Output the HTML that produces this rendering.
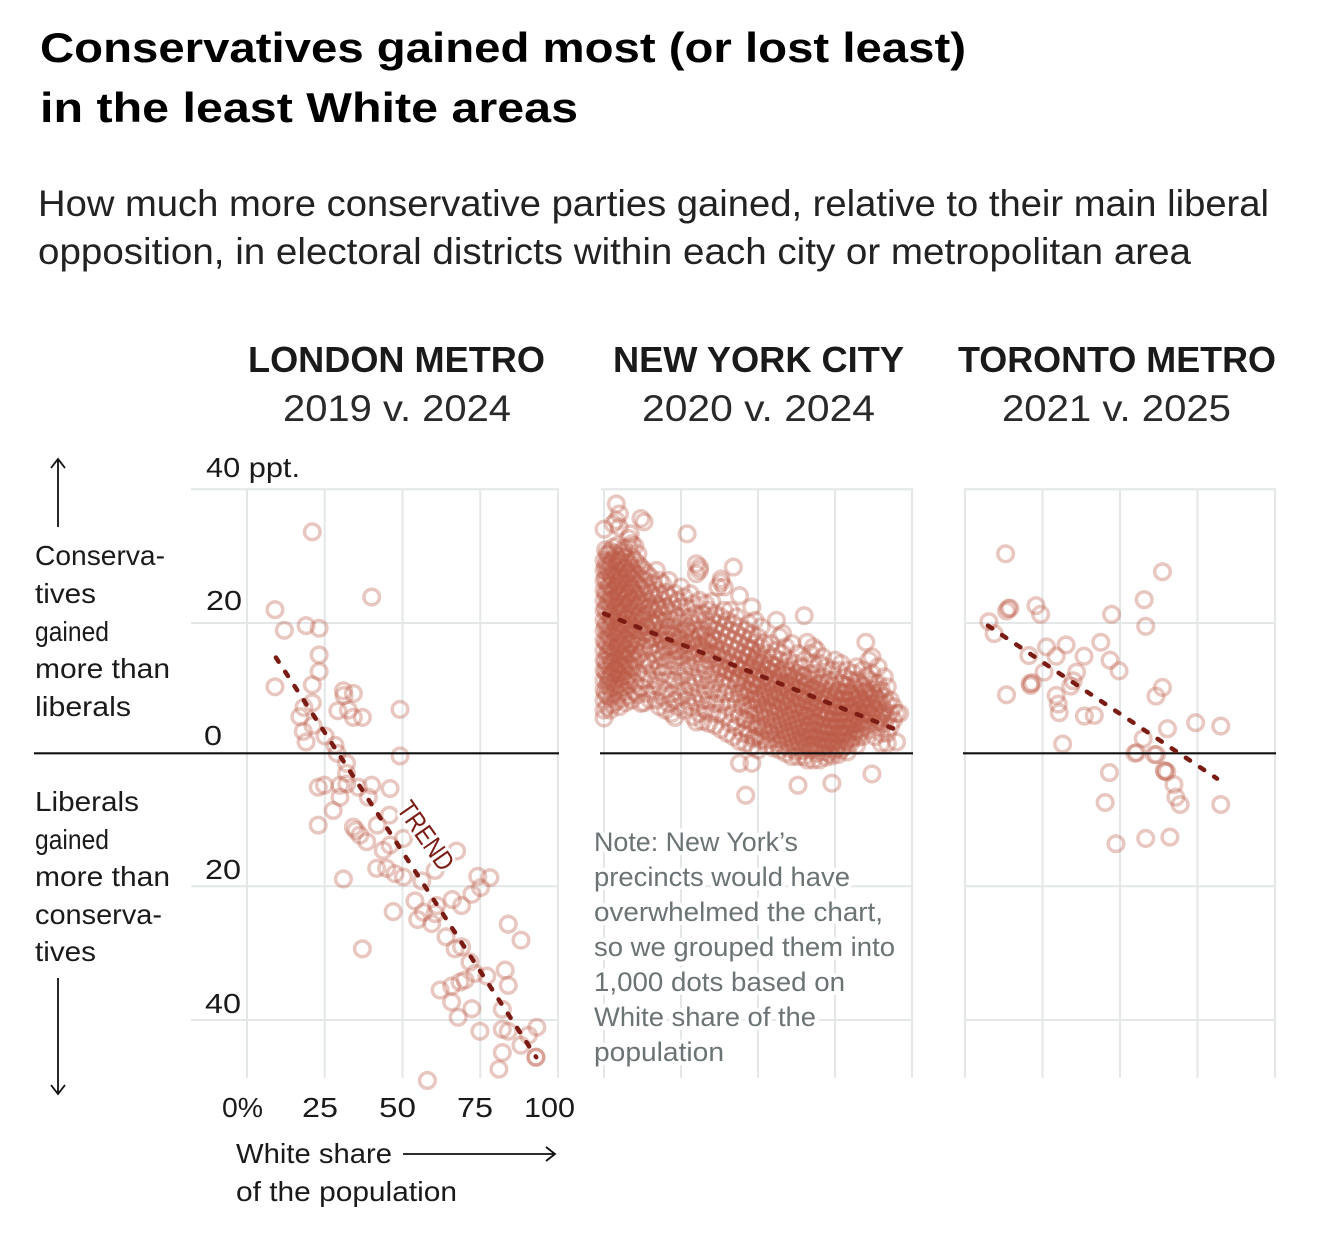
<!DOCTYPE html>
<html lang="en">
<head>
<meta charset="utf-8">
<title>Conservatives gained most (or lost least) in the least White areas</title>
<style>
html,body{margin:0;padding:0;background:#fff;}
svg{display:block;}
text{font-family:"Liberation Sans",sans-serif;fill:#1a1a1a;}
.title{font-weight:700;font-size:42px;fill:#000;}
.sub{font-size:37px;fill:#222;}
.head{font-weight:700;font-size:36px;fill:#1a1a1a;}
.year{font-size:37px;fill:#2a2a2a;}
.lab{font-size:28px;fill:#1a1a1a;}
.note{font-size:27px;fill:#6b7375;paint-order:stroke;stroke:#fff;stroke-width:8px;stroke-linejoin:round;}
.trend-label{font-size:27px;fill:#7a1c14;paint-order:stroke;stroke:#fff;stroke-width:6px;stroke-linejoin:round;}
</style>
</head>
<body>
<svg id="chart" xmlns="http://www.w3.org/2000/svg" width="1332" height="1240" viewBox="0 0 1332 1240">
  <rect width="1332" height="1240" fill="#fff"/>
  <text class="title" x="40" y="62" textLength="926" lengthAdjust="spacingAndGlyphs">Conservatives gained most (or lost least)</text>
  <text class="title" x="40" y="122" textLength="538" lengthAdjust="spacingAndGlyphs">in the least White areas</text>
  <text class="sub" x="38" y="216" textLength="1231" lengthAdjust="spacingAndGlyphs">How much more conservative parties gained, relative to their main liberal</text>
  <text class="sub" x="38" y="264" textLength="1153" lengthAdjust="spacingAndGlyphs">opposition, in electoral districts within each city or metropolitan area</text>

  <text class="head" x="248" y="372" textLength="297" lengthAdjust="spacingAndGlyphs">LONDON METRO</text>
  <text class="year" x="283" y="421" textLength="228" lengthAdjust="spacingAndGlyphs">2019 v. 2024</text>
  <text class="head" x="613" y="372" textLength="291" lengthAdjust="spacingAndGlyphs">NEW YORK CITY</text>
  <text class="year" x="642" y="421" textLength="233" lengthAdjust="spacingAndGlyphs">2020 v. 2024</text>
  <text class="head" x="958" y="372" textLength="318" lengthAdjust="spacingAndGlyphs">TORONTO METRO</text>
  <text class="year" x="1002" y="421" textLength="229" lengthAdjust="spacingAndGlyphs">2021 v. 2025</text>

  <g id="plots"></g>

  <g>
    <text class="lab" x="206" y="477" textLength="94" lengthAdjust="spacingAndGlyphs">40 ppt.</text>
    <text class="lab" x="206" y="610" textLength="36" lengthAdjust="spacingAndGlyphs">20</text>
    <text class="lab" x="204" y="745" textLength="18" lengthAdjust="spacingAndGlyphs">0</text>
    <text class="lab" x="205" y="879" textLength="36" lengthAdjust="spacingAndGlyphs">20</text>
    <text class="lab" x="205" y="1013" textLength="36" lengthAdjust="spacingAndGlyphs">40</text>
  </g>

  <g>
    <path d="M58 527V459M51 468L58 459L65 468" fill="none" stroke="#111" stroke-width="1.8"/>
    <text class="lab" x="35" y="565" textLength="130" lengthAdjust="spacingAndGlyphs">Conserva-</text>
    <text class="lab" x="35" y="603" textLength="61" lengthAdjust="spacingAndGlyphs">tives</text>
    <text class="lab" x="35" y="641" textLength="74" lengthAdjust="spacingAndGlyphs">gained</text>
    <text class="lab" x="35" y="678" textLength="135" lengthAdjust="spacingAndGlyphs">more than</text>
    <text class="lab" x="35" y="716" textLength="96" lengthAdjust="spacingAndGlyphs">liberals</text>
  </g>
  <g>
    <text class="lab" x="35" y="811" textLength="104" lengthAdjust="spacingAndGlyphs">Liberals</text>
    <text class="lab" x="35" y="849" textLength="74" lengthAdjust="spacingAndGlyphs">gained</text>
    <text class="lab" x="35" y="886" textLength="135" lengthAdjust="spacingAndGlyphs">more than</text>
    <text class="lab" x="35" y="924" textLength="127" lengthAdjust="spacingAndGlyphs">conserva-</text>
    <text class="lab" x="35" y="961" textLength="61" lengthAdjust="spacingAndGlyphs">tives</text>
    <path d="M58 978V1094M51 1085L58 1094L65 1085" fill="none" stroke="#111" stroke-width="1.8"/>
  </g>

  <g>
    <text class="lab" x="222" y="1117" textLength="41" lengthAdjust="spacingAndGlyphs">0%</text>
    <text class="lab" x="302" y="1117" textLength="36" lengthAdjust="spacingAndGlyphs">25</text>
    <text class="lab" x="379" y="1117" textLength="37" lengthAdjust="spacingAndGlyphs">50</text>
    <text class="lab" x="457" y="1117" textLength="36" lengthAdjust="spacingAndGlyphs">75</text>
    <text class="lab" x="524" y="1117" textLength="51" lengthAdjust="spacingAndGlyphs">100</text>
    <text class="lab" x="236" y="1163" textLength="156" lengthAdjust="spacingAndGlyphs">White share</text>
    <path d="M403 1154H555M546 1147L555 1154L546 1161" fill="none" stroke="#111" stroke-width="1.8"/>
    <text class="lab" x="236" y="1201" textLength="221" lengthAdjust="spacingAndGlyphs">of the population</text>
  </g>

  <g>
    <text class="note" x="594" y="851" textLength="204" lengthAdjust="spacingAndGlyphs">Note: New York’s</text>
    <text class="note" x="594" y="886" textLength="256" lengthAdjust="spacingAndGlyphs">precincts would have</text>
    <text class="note" x="594" y="921" textLength="289" lengthAdjust="spacingAndGlyphs">overwhelmed the chart,</text>
    <text class="note" x="594" y="956" textLength="301" lengthAdjust="spacingAndGlyphs">so we grouped them into</text>
    <text class="note" x="594" y="991" textLength="251" lengthAdjust="spacingAndGlyphs">1,000 dots based on</text>
    <text class="note" x="594" y="1026" textLength="222" lengthAdjust="spacingAndGlyphs">White share of the</text>
    <text class="note" x="594" y="1061" textLength="130" lengthAdjust="spacingAndGlyphs">population</text>
  </g>
</svg>

<script>
var xGridValues = [0, 25, 50, 75, 100];
var yGridValues = [39.7, 19.6, -20, -40.1];

var londonPoints = [[21,33.3],[40.1,23.5],[9,21.6],[12,18.5],[19,19.2],[23.2,18.8],[23.2,14.8],[23.2,12.3],[21,10.3],[9,10],[21,7.6],[18.3,6.9],[17,5.5],[18.1,3.3],[19,1.7],[21.2,4.2],[25.1,2.6],[31,9.4],[31.2,8.7],[34.2,9],[29.2,6.4],[32.6,6.5],[34.2,5.4],[37.1,5.4],[49.2,6.6],[49.2,-0.4],[28.3,1.2],[29,0],[32,-1.5],[32,-3],[22.9,-5.1],[24.9,-4.8],[29.9,-4.8],[32.1,-4.6],[35.8,-5.1],[40.1,-4.8],[46,-5.3],[29.9,-6.6],[27.7,-8.6],[22.9,-10.8],[39,-6.6],[45.8,-9.3],[41.9,-10.8],[34.2,-11.1],[35,-11.6],[36.3,-12.3],[38.5,-13.3],[50.3,-12.8],[46,-13.8],[43.8,-14.6],[41.7,-17.3],[44.9,-17.3],[47.6,-18.1],[50.3,-18.6],[67.4,-14.7],[31,-18.9],[60.5,-17.6],[56.2,-19.2],[74.2,-18.5],[78.1,-18.7],[75.1,-20.2],[72.3,-21.2],[69,-22.9],[66,-22],[54,-22.2],[47,-23.8],[54.9,-25],[56.7,-23.9],[59.4,-25.6],[60.5,-24.1],[61,-22.9],[84,-25.7],[88.1,-28.1],[37.1,-29.4],[64,-27.6],[66.9,-29.4],[69,-29.1],[71.7,-31.4],[73.3,-33.1],[77.1,-33.5],[83,-32.6],[84,-34.9],[62.1,-35.6],[65.8,-35],[68.5,-34.4],[70.1,-34.1],[65.8,-37.4],[72.3,-38.4],[67.9,-39.7],[82.1,-38.5],[74.9,-41.8],[82.1,-41.5],[84,-41.8],[93.2,-41.2],[90.5,-42.4],[88.1,-43.9],[82.1,-45],[81,-47.5],[92.9,-45.7],[92.9,-45.7],[58,-49.2]];
var londonTrend = [[9.3,14.4],[93,-45.7]];

var torontoPoints = [[13.1,30],[63.7,27.3],[57.8,23.1],[58.3,19.1],[47.3,20.9],[14,21.8],[13.4,21.4],[14.5,21.8],[22.9,22.2],[24.4,20.9],[7.7,19.8],[9.4,18],[20.6,14.7],[26.3,16],[32.6,16.3],[29.4,14.6],[43.8,16.7],[38.4,14.6],[46.8,14],[49.7,12.4],[25.5,12.2],[36,12.2],[34.9,10.9],[34.1,10.1],[21.2,10.2],[21,10.5],[21.7,10.6],[13.4,8.8],[29.4,8.7],[30.1,7.4],[30.4,6.1],[38.5,5.6],[41.7,5.7],[63.7,9.9],[61.6,8.6],[65.3,3.7],[74.4,4.6],[82.5,4.1],[57.5,2.2],[31.5,1.4],[54.8,0],[55.4,0.1],[61.1,-0.2],[61.8,-0.2],[64.5,-2.7],[65.1,-2.8],[64.3,-2.6],[67.4,-4.7],[46.6,-2.9],[68,-6.6],[69.4,-7.7],[45.2,-7.4],[82.5,-7.7],[48.7,-13.6],[58.3,-12.8],[66.1,-12.6]];
var torontoTrend = [[7.4,19.2],[81.3,-3.8]];

/* NYC: grouped dots. One row per White-share value (the row index), listing each dot's swing. */
var nycSwingsByWhiteShare = [
[5.3,6.5,8,9.5,11,12.5,14,15.5,17,18.5,20,21.5,23,24.5,26,27.5,29,33.7],
[7,8.7,10.2,11.8,13.3,14.9,16.4,18,19.5,21.1,22.6,24.2,25.7,27.3,28.8,30],
[6.5,8.3,9.8,11.4,12.9,14.5,16,17.6,19.1,20.7,22.2,23.8,25.3,26.9,28.4,30.4],
[7.4,9,10.6,12.1,13.7,15.2,16.8,18.3,19.9,21.4,23,24.5,26.1,27.6,29.2,31,34.5],
[7.8,9.6,11.1,12.7,14.2,15.8,17.3,18.9,20.4,22,23.5,25.1,26.6,28.2,29.7,35,37.5],
[7,8.8,10.4,11.9,13.5,15,16.6,18.1,19.7,21.2,22.8,24.3,25.9,27.4,29,36,34],
[8.2,10,11.5,13.1,14.6,16.2,17.7,19.3,20.8,22.4,23.9,25.5,27,28.6,30.3],
[7.6,9.3,10.9,12.4,14,15.5,17.1,18.6,20.2,21.7,23.3,24.8,26.4,27.9,29.5],
[8.6,10.3,11.8,13.4,14.9,16.5,18,19.5,21,22.6,24.1,25.6,27.2,28.7,31,32.3],
[8,11,13,15,16.8,18.4,20,21.5,23,24.6,26.3,27.8,29.6,31.5],
[9.2,10.6,13.8,15.5,17.2,19,20.6,22.2,24,25.5,27,29,31.2],
[8.8,12,14.5,16.8,18.6,20.3,22,23.7,25.3,26.8,28.5,30],
[7.5,10,15,17.5,19.4,21.2,23,24.8,26.2,28,35.3],
[7.6,11,13.5,16,18.2,20.2,22.4,24.2,26,27.5,34.8],
[9,12,14,17,19,21,23,25,27],
[8,11,13.5,16,18,20,22,24,26.5],
[9.5,12.5,15,17.5,19.5,21.5,23.5,25.5],
[8,11,14,16.5,18.5,20.5,22.5,24.5,27.5],
[7,10,13,15.5,18,20,22,24,26],
[8.5,12,14.5,17,19,21,23,25.5],
[6.5,9.5,13,16,18,20,22,24.2],
[7.5,11,14,17,19,21.5,23.5,26],
[6,9,12.5,15.5,18,20,22.5],
[5.4,8,11,14,16.5,19,21,24],
[7,10,13,15.5,18,20.5,23],
[8.5,11.5,14.5,17,19.5,22,25],
[6.5,9.5,12.5,15.5,18,20.5,23.5],
[8,11,14,16.5,19,22,33],
[7,10,13,15.5,18,20.5,24],
[5.5,8.5,11.5,14.5,17,19.5,22.5],
[4.7,7.5,10.5,13.5,16,18.5,21,27,28.5],
[6,9,12,15,17.5,20,23,27.5,28],
[4.8,8,11,13.5,16,18.5,21],
[6.5,9.5,12.5,15,17.5,20,22.5],
[4.5,8,11,14,16.5,19,21.5],
[6,9.5,12,15,17.5,20,22.8],
[4.2,7.5,10.5,13.5,16,18.5,21],
[6,9,12,14.5,17,19.5,25],
[3.6,7.5,10.5,13,15.5,18,20.5,25.7,26.2],
[5.5,9,11.5,14,16.5,19,21.5,25],
[3,7,10,12.5,15,17.5,20],
[4.5,8,11,13.5,16,18.5,21.5],
[2.5,6,9,12,14.5,17,19.5,28],
[4,7.5,10.5,13,15.5,18,20.5],
[-1.5,1.8,5.5,9,11.5,14,16.5,19,23.7],
[3,7,10,12.5,15,17.5],
[-6.3,1.5,5,8.5,11,13.5,16,18.5],
[2.8,6.5,9.5,12,14.5,17,19.5],
[-1.5,1,4.5,8,10.5,13,15.5,18,22],
[2.5,6,9,11.5,14,16.5,20],
[0.5,4,7.5,10,12.5,15,17.5],
[2,5.5,8.5,11,13.5,16,19],
[3.5,6.5,9,11.5,14,16.5],
[1.2,4.5,7.5,10,12.5,15],
[3,6,8.5,11,13.5,16.5],
[0.8,4,7,9.5,12,14.5],
[2.2,5,8,10.5,13,15.5,20],
[0.5,3.5,6.5,9,11.5,14,17.5],
[2,4.5,7.5,10,12.5,15,18],
[0,3,5.5,8,10.5,13,16],
[1.5,4,6.5,9,11.5,14],
[-0.5,2.5,5,7.5,10,12.5,16.5],
[1,3.5,6,8.5,11,13.5],
[-4.8,-0.5,2,4.5,7,9.5,12,15],
[1,3,5.5,8,10.5,13],
[-0.5,2,4,6.5,9,11.5,14,20.7],
[-1,1,3.5,5.5,8,10.5,16.7],
[0.5,2.5,4.5,7,9.5,12,15],
[-1,1.5,3.5,6,8.5,11,13.5,16],
[0,2,4.5,7,9.5,12,15.5],
[-1,1,3,5.5,8,10.5,13.5],
[0.2,2,4,6.5,9,11.5,14.5],
[-0.6,1.2,3,5.5,8,10.5,13],
[0,2,4,6,8.5,11],
[-4.5,-0.4,1.5,3.2,5,7.5,10,12.5],
[0.4,2.2,4,6,8.5,11,14],
[-0.2,1.2,3,5,7,9.5,12.5],
[0.5,2.5,4,6,8,10.5,13.5],
[1,3,5,7,9,11.5],
[0.2,2,4,6,8,10,12.5],
[1.5,3.5,5,7,9,11],
[2.5,4.5,6,8,10,12],
[1.2,3.5,5.5,7,9,11,13],
[3,5,6.5,8.5,10.5],
[2.5,4.5,6,8,10,12.5],
[4,6,7.5,9.5,11.5,16.7],
[3.5,5,7,9,11,14],
[-3.1,5.5,7.5,9.5,12,14.5],
[2.5,4.5,6.5,8.5,10.5],
[4,6,8,10.5,13],
[1.5,3,5.5,7.5,9.5],
[4.5,6.5,8.5,11.5],
[1.5,3,5.5,7.5,10],
[4,6,8],
[5,7],
[1.7,6],
[6]
];
/* Dots in between: row index plus one half gives the White share. */
var nycSwingsHalfShare = [
[9.1,12.3,13.9,16.7,19.2,21.8,24,26.3,28.1,30.6],
[10.7,11.2,15.3,17.4,18.8,22.9,25.1,27.7,29.9],
[11.9,13.6,15.9,19.8,20.4,23.2,26.6,28.9],
[10.1,12.6,14.7,17.9,21.9,24.8,27,30.1],
[12.2,16.1,18.6,20.9,23.8,25.6,28.8,31.3],
[11.3,13.2,15.4,19.4,22.3,26.2,29.7],
[12.9,14.3,17.2,21.3,24.4,27.8,30.8],
[11.6,15.7,18.9,20.1,23.6,26.9],
[12.8,16.4,19.2,22.7,25.2,28.3,33],
[14.1,17.7,21.1,24.2,27.2],
[16.3,19.8,23.4],
[18.3,22.6],
[20.7],
[19.1],
[21.9],
[17.3],
[19.4],
[21.7],
[17.2],
[15.6],
[18.3],
[16.1],
[17.6],
[15.4],
[17.4],
[16.3],
[18.6],
[15.1],
[17.4],
[14.9],
[16.4],
[17.9],
[15.4],
[16.9],
[14.8],
[17.1],
[15.3],
[13.1],
[14.7],
[12.7],
[14.1],
[12.3],
[13.4],
[11.1],
[8.4,12.6],
[5.2,9.6,13.1],
[3.6,7.2,11.4,14.7],
[5.7,9.2,12.7,15.8],
[2.2,6.8,10.3,13.6],
[4.3,8.1,11.1,14.6],
[2.6,5.9,8.9,12.1],
[3.9,7.2,10.2,13.4],
[1.9,5.2,8.4,11.7],
[3.3,6.4,9.2,12.6],
[2.1,4.9,7.7,10.4,13.2],
[3.4,6.1,8.6,11.1],
[1.4,4.2,6.9,9.3,12.2],
[2.7,5.3,7.8,10.6],
[1.1,3.7,6.2,8.8,11.8],
[2.4,4.8,7.1,9.7,12.4],
[0.7,3.2,5.7,8.2,10.7],
[1.8,4.3,6.6,9.2,11.6],
[0.3,2.8,5.1,7.4,9.9],
[1.6,3.8,6.1,8.4,10.8],
[0.4,2.4,4.7,7.1,9.3,11.7],
[1.4,3.3,5.6,7.9,10.2],
[2.2,4.2,6.4,8.7,11.2],
[1.2,3.2,5.3,7.6,9.8],
[0.6,2.6,4.6,6.9,9.2],
[1.4,3.4,5.7,7.8,10.4],
[2.2,4.3,6.4,8.7],
[0.9,3.1,5.2,7.3,9.6],
[1.9,4,6.1,8.4],
[0.7,2.9,5,7.1,9.4],
[1.7,3.9,6,8.2],
[0.8,2.8,4.8,6.9,9.2],
[1.8,3.8,5.9,8],
[3,5,7,9.1],
[1.7,3.9,6,8.1,10.2],
[2.9,4.9,6.9,9.2],
[2.2,4.2,6.2,8.4],
[3.2,5.2,7.3,9.5],
[2.4,4.4,6.4,8.3],
[3.7,5.7,7.6],
[4.9,7,9.2],
[6.2,8.2],
[5.9,8.4],
[6.7,9],
[5.2,7.7],
[4.8,9],
[6]
];
var nycTrend = [[0,21],[94,3.7]];

var SVGNS = 'http://www.w3.org/2000/svg';
var plots = document.getElementById('plots');

function yScale(v) { return 753.3 - 6.65 * v; }
function makeXScale(x0, width) {
  return function (v) { return x0 + width * v / 100; };
}
function add(parent, tag, attrs) {
  var el = document.createElementNS(SVGNS, tag);
  for (var k in attrs) { el.setAttribute(k, attrs[k]); }
  parent.appendChild(el);
  return el;
}

function drawPanel(key, x0, width, gridLeft, zeroLeft, points, trend) {
  var xScale = makeXScale(x0, width);
  var right = x0 + width;
  var g = add(plots, 'g', {});
  
  

  xGridValues.forEach(function (v) {
    var line = add(g, 'line', { x1: xScale(v), x2: xScale(v), y1: 489, y2: 1078, stroke: '#e3e7e8', 'stroke-width': 2 });
    
    
  });
  yGridValues.forEach(function (v) {
    var line = add(g, 'line', { x1: gridLeft, x2: right + 1, y1: yScale(v), y2: yScale(v), stroke: '#e3e7e8', 'stroke-width': 2 });
    
    
  });

  points.forEach(function (p) {
    var c = add(g, 'circle', { cx: xScale(p[0]), cy: yScale(p[1]), r: 7.8, fill: 'none', stroke: '#bb5a45', 'stroke-width': 3.5, 'stroke-opacity': 0.34 });
    
    
  });

  var zero = add(g, 'line', { x1: zeroLeft, x2: right + 1, y1: yScale(0), y2: yScale(0), stroke: '#111', 'stroke-width': 2.2 });
  
  

  var t = add(g, 'line', {
    x1: xScale(trend[0][0]), y1: yScale(trend[0][1]),
    x2: xScale(trend[1][0]), y2: yScale(trend[1][1]),
    stroke: '#7a1c14', 'stroke-width': 4.5, 'stroke-linecap': 'round', 'stroke-dasharray': '5 12'
  });
  
  
  return g;
}

var nycPoints = [];
nycSwingsByWhiteShare.forEach(function (row, share) {
  row.forEach(function (swing) { nycPoints.push([share, swing]); });
});
nycSwingsHalfShare.forEach(function (row, share) {
  row.forEach(function (swing) { nycPoints.push([share + 0.5, swing]); });
});

var londonPanel = drawPanel('london', 247, 311, 191, 34, londonPoints, londonTrend);
drawPanel('nyc', 604, 308, 601, 600, nycPoints, nycTrend);
drawPanel('toronto', 965, 310, 964, 963, torontoPoints, torontoTrend);

var trendLabel = add(londonPanel, 'text', { 'class': 'trend-label', transform: 'translate(396 809) rotate(55)', textLength: 78, lengthAdjust: 'spacingAndGlyphs' });


trendLabel.textContent = 'TREND';
</script>
</body>
</html>
